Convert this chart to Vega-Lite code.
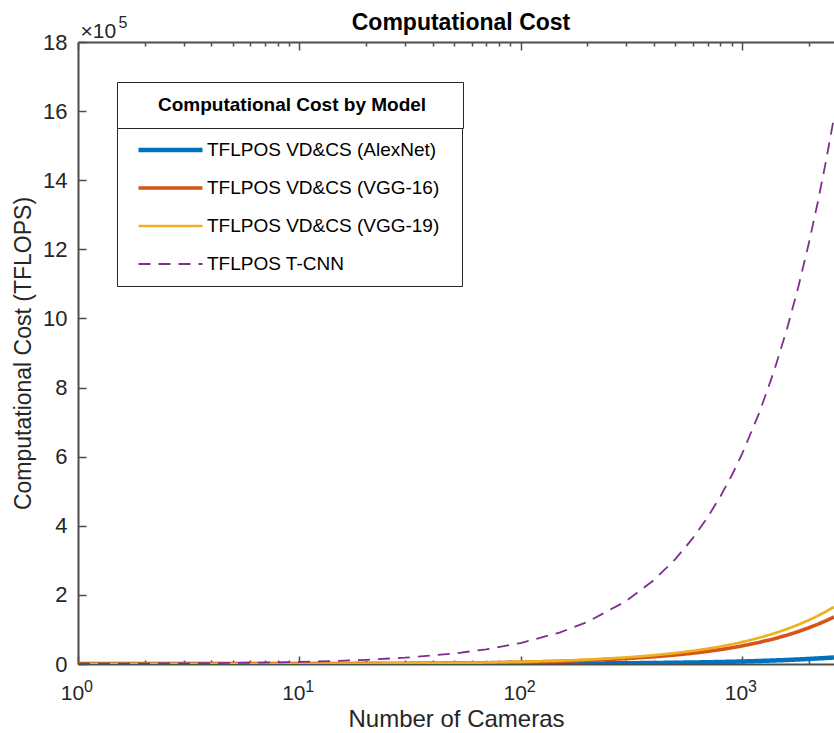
{
  "$schema": "https://vega.github.io/schema/vega-lite/v6.json",
  "autosize": {"type": "none"},
  "padding": {"left": 78, "top": 42, "right": 0, "bottom": 69},
  "width": 756,
  "height": 622,
  "title": {"text": "Computational Cost", "fontSize": 23, "fontWeight": "bold", "color": "#000000", "font": "Liberation Sans", "offset": 10, "dx": 5, "dy": 31},
  "config": {"font": "Liberation Sans", "view": {"stroke": null}},
  "resolve": {"axis": {"x": "independent"}},
  "data": {"values": [
    {"n": 1, "AlexNet": 7, "VGG16": 52, "VGG19": 63, "TCNN": 607},
    {"n": 2, "AlexNet": 15, "VGG16": 104, "VGG19": 127, "TCNN": 1214},
    {"n": 3, "AlexNet": 22, "VGG16": 157, "VGG19": 190, "TCNN": 1821},
    {"n": 5, "AlexNet": 37, "VGG16": 261, "VGG19": 317, "TCNN": 3035},
    {"n": 7, "AlexNet": 51, "VGG16": 365, "VGG19": 443, "TCNN": 4249},
    {"n": 10, "AlexNet": 73, "VGG16": 522, "VGG19": 633, "TCNN": 6070},
    {"n": 15, "AlexNet": 110, "VGG16": 783, "VGG19": 950, "TCNN": 9105},
    {"n": 20, "AlexNet": 146, "VGG16": 1044, "VGG19": 1266, "TCNN": 12140},
    {"n": 30, "AlexNet": 219, "VGG16": 1566, "VGG19": 1899, "TCNN": 18210},
    {"n": 50, "AlexNet": 365, "VGG16": 2610, "VGG19": 3165, "TCNN": 30350},
    {"n": 70, "AlexNet": 511, "VGG16": 3654, "VGG19": 4431, "TCNN": 42490},
    {"n": 100, "AlexNet": 730, "VGG16": 5220, "VGG19": 6330, "TCNN": 60700},
    {"n": 150, "AlexNet": 1095, "VGG16": 7830, "VGG19": 9495, "TCNN": 91050},
    {"n": 200, "AlexNet": 1460, "VGG16": 10440, "VGG19": 12660, "TCNN": 121400},
    {"n": 300, "AlexNet": 2190, "VGG16": 15660, "VGG19": 18990, "TCNN": 182100},
    {"n": 400, "AlexNet": 2920, "VGG16": 20880, "VGG19": 25320, "TCNN": 242800},
    {"n": 500, "AlexNet": 3650, "VGG16": 26100, "VGG19": 31650, "TCNN": 303500},
    {"n": 600, "AlexNet": 4380, "VGG16": 31320, "VGG19": 37980, "TCNN": 364200},
    {"n": 700, "AlexNet": 5110, "VGG16": 36540, "VGG19": 44310, "TCNN": 424900},
    {"n": 800, "AlexNet": 5840, "VGG16": 41760, "VGG19": 50640, "TCNN": 485600},
    {"n": 900, "AlexNet": 6570, "VGG16": 46980, "VGG19": 56970, "TCNN": 546300},
    {"n": 1000, "AlexNet": 7300, "VGG16": 52200, "VGG19": 63300, "TCNN": 607000},
    {"n": 1200, "AlexNet": 8760, "VGG16": 62640, "VGG19": 75960, "TCNN": 728400},
    {"n": 1400, "AlexNet": 10220, "VGG16": 73080, "VGG19": 88620, "TCNN": 849800},
    {"n": 1600, "AlexNet": 11680, "VGG16": 83520, "VGG19": 101280, "TCNN": 971200},
    {"n": 1800, "AlexNet": 13140, "VGG16": 93960, "VGG19": 113940, "TCNN": 1092600},
    {"n": 2000, "AlexNet": 14600, "VGG16": 104400, "VGG19": 126600, "TCNN": 1214000},
    {"n": 2200, "AlexNet": 16060, "VGG16": 114840, "VGG19": 139260, "TCNN": 1335400},
    {"n": 2400, "AlexNet": 17520, "VGG16": 125280, "VGG19": 151920, "TCNN": 1456800},
    {"n": 2606, "AlexNet": 19024, "VGG16": 136033, "VGG19": 164960, "TCNN": 1581842}
  ]},
  "transform": [{"fold": ["AlexNet", "VGG16", "VGG19", "TCNN"], "as": ["model", "cost"]}],
  "layer": [
    {
      "mark": {"type": "line", "clip": true},
      "encoding": {
        "x": {
          "field": "n", "type": "quantitative",
          "scale": {"type": "log", "domain": [1, 2606], "nice": false},
          "axis": {
            "orient": "bottom",
            "title": "Number of Cameras",
            "titleFontSize": 24, "titleFontWeight": "normal", "titleColor": "#262626", "titlePadding": 0,
            "values": [1,2,3,4,5,6,7,8,9,10,20,30,40,50,60,70,80,90,100,200,300,400,500,600,700,800,900,1000,2000],
            "labelExpr": "datum.value == 1 || datum.value == 10 || datum.value == 100 || datum.value == 1000 ? '10' : ''",
            "labelFontSize": 21, "labelColor": "#262626", "labelPadding": 26, "labelOffset": -6, "labelOverlap": false, "labelFlush": false, "labelBound": false,
            "grid": false,
            "domainColor": "#4d4d4d", "domainWidth": 2,
            "tickColor": "#4d4d4d", "tickWidth": 1.5,
            "tickSize": {"condition": {"test": "datum.value == 1 || datum.value == 10 || datum.value == 100 || datum.value == 1000", "value": -8}, "value": -4}
          }
        },
        "y": {
          "field": "cost", "type": "quantitative",
          "scale": {"domain": [0, 1800000], "nice": false},
          "axis": {
            "title": "Computational Cost (TFLOPS)",
            "titleFontSize": 23, "titleFontWeight": "normal", "titleColor": "#262626", "titlePadding": 7,
            "values": [0, 200000, 400000, 600000, 800000, 1000000, 1200000, 1400000, 1600000, 1800000],
            "labelExpr": "format(datum.value / 100000, 'd')",
            "labelFontSize": 22, "labelColor": "#262626", "labelPadding": 19, "labelFlush": false, "labelBound": false,
            "grid": false,
            "domainColor": "#4d4d4d", "domainWidth": 2,
            "tickColor": "#4d4d4d", "tickWidth": 1.5, "tickSize": -8
          }
        },
        "color": {
          "field": "model", "type": "nominal",
          "scale": {"domain": ["AlexNet", "VGG16", "VGG19", "TCNN"], "range": ["#0072BD", "#D95319", "#EDB120", "#7E2F8E"]},
          "legend": {
            "orient": "none", "legendX": 39, "legendY": 86,
            "title": null,
            "labelExpr": "(datum.value == 'AlexNet' ? 'TFLPOS VD&CS (AlexNet)' : datum.value == 'VGG16' ? 'TFLPOS VD&CS (VGG-16)' : datum.value == 'VGG19' ? 'TFLPOS VD&CS (VGG-19)' : 'TFLPOS T-CNN') + '\u00a0\u2800'",
            "labelFontSize": 19, "labelColor": "#000000", "labelOffset": 2, "labelLimit": 400,
            "symbolType": "stroke", "symbolSize": 4096, "symbolOffset": 16,
            "clipHeight": 38, "rowPadding": 0,
            "padding": 3,
            "strokeColor": "#262626", "fillColor": "#ffffff"
          }
        },
        "strokeDash": {
          "field": "model", "type": "nominal",
          "scale": {"domain": ["AlexNet", "VGG16", "VGG19", "TCNN"], "range": [[1, 0], [1, 0], [1, 0], [12, 8]]},
          "legend": null
        },
        "strokeWidth": {
          "field": "model", "type": "nominal",
          "scale": {"domain": ["AlexNet", "VGG16", "VGG19", "TCNN"], "range": [4.5, 1.8, 1.8, 2.5]},
          "legend": null
        }
      }
    },
    {
      "mark": {"type": "line", "opacity": 0},
      "encoding": {
        "x": {
          "field": "n", "type": "quantitative",
          "axis": {
            "orient": "top",
            "title": "×10", "titleFontSize": 21, "titleFontWeight": "normal", "titleColor": "#262626",
            "titleAnchor": "start", "titleAlign": "left", "titleBaseline": "alphabetic", "titleX": 2, "titleY": -5,
            "values": [1,2,3,4,5,6,7,8,9,10,20,30,40,50,60,70,80,90,100,200,300,400,500,600,700,800,900,1000,2000],
            "labels": false,
            "grid": false,
            "domainColor": "#4d4d4d", "domainWidth": 2,
            "tickColor": "#4d4d4d", "tickWidth": 1.5,
            "tickSize": {"condition": {"test": "datum.value == 1 || datum.value == 10 || datum.value == 100 || datum.value == 1000", "value": -8}, "value": -4}
          }
        },
        "y": {"field": "cost", "type": "quantitative"}
      }
    },
    {
      "mark": {"type": "line", "opacity": 0},
      "encoding": {
        "x": {
          "field": "n", "type": "quantitative",
          "axis": {
            "orient": "bottom",
            "title": "5", "titleFontSize": 16, "titleFontWeight": "normal", "titleColor": "#262626",
            "titleAnchor": "start", "titleAlign": "left", "titleBaseline": "alphabetic", "titleX": 40, "titleY": -637,
            "values": [1, 10, 100, 1000],
            "labelExpr": "datum.value == 1 ? '0' : datum.value == 10 ? '1' : datum.value == 100 ? '2' : '3'",
            "labelFontSize": 16, "labelColor": "#262626", "labelPadding": 14, "labelOffset": 10, "labelOverlap": false, "labelFlush": false, "labelBound": false,
            "domain": false, "ticks": false, "grid": false
          }
        },
        "y": {"field": "cost", "type": "quantitative"}
      }
    },
    {
      "data": {"values": [{"section": "Computational Cost by Model"}]},
      "mark": {"type": "point", "opacity": 0},
      "encoding": {
        "shape": {
          "field": "section", "type": "nominal",
          "legend": {
            "orient": "none", "legendX": 39, "legendY": 40,
            "title": null,
            "labelExpr": "datum.value + '\u00a0\u2800\u2800'",
            "labelFontSize": 19, "labelFontWeight": "bold", "labelColor": "#000000", "labelOffset": 19, "labelLimit": 500,
            "symbolSize": 1, "symbolOpacity": 0, "symbolOffset": 0, "symbolStrokeWidth": 0,
            "clipHeight": 40, "rowPadding": 0,
            "padding": 3,
            "strokeColor": "#262626", "fillColor": "#ffffff"
          }
        }
      }
    }
  ]
}
